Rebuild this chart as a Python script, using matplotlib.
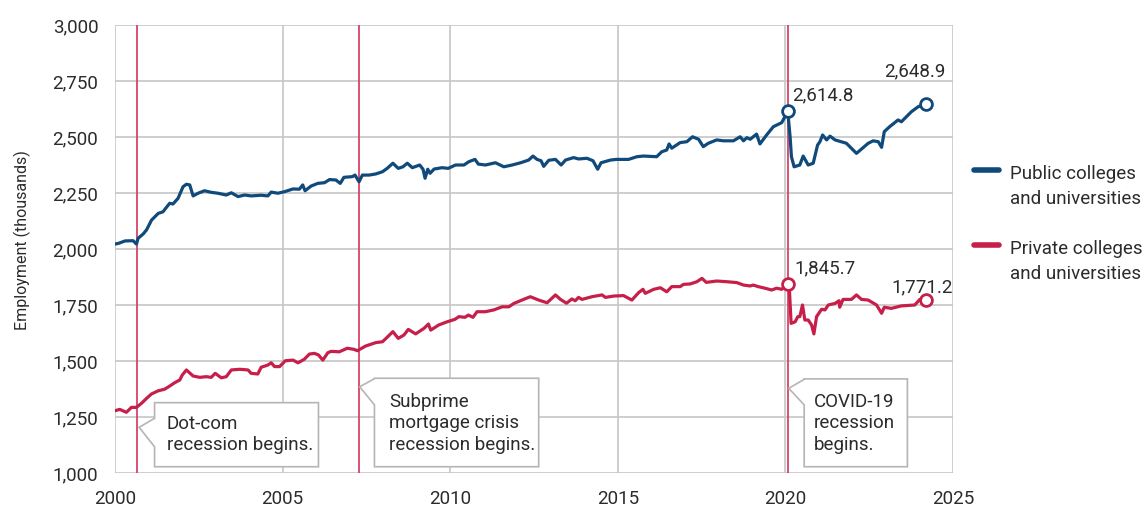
import matplotlib
matplotlib.use("Agg")
import matplotlib.pyplot as plt
from matplotlib.patches import Polygon
from matplotlib.lines import Line2D
from matplotlib.ticker import FuncFormatter, MultipleLocator

plt.rcParams['font.family'] = ['Roboto', 'DejaVu Sans']

# ---------------- data ----------------
public_years = [
    2000.00, 2000.10, 2000.30, 2000.54, 2000.64, 2000.69, 2000.84, 2000.94, 2001.09, 2001.29,
    2001.43, 2001.63, 2001.73, 2001.88, 2002.03, 2002.13, 2002.23, 2002.33, 2002.48, 2002.67,
    2002.87, 2003.07, 2003.32, 2003.47, 2003.67, 2003.87, 2004.06, 2004.36, 2004.56, 2004.66,
    2004.86, 2005.06, 2005.31, 2005.50, 2005.60, 2005.67, 2005.85, 2006.05, 2006.25, 2006.40,
    2006.59, 2006.72, 2006.83, 2007.08, 2007.16, 2007.28, 2007.38, 2007.58, 2007.78, 2007.98,
    2008.12, 2008.29, 2008.45, 2008.59, 2008.72, 2008.87, 2009.09, 2009.19, 2009.25, 2009.33,
    2009.40, 2009.52, 2009.76, 2009.94, 2010.16, 2010.41, 2010.56, 2010.74, 2010.84, 2011.05,
    2011.35, 2011.60, 2011.85, 2012.10, 2012.34, 2012.47, 2012.59, 2012.71, 2012.79, 2012.94,
    2013.14, 2013.31, 2013.44, 2013.68, 2013.83, 2014.08, 2014.26, 2014.40, 2014.50, 2014.78,
    2014.95, 2015.32, 2015.57, 2015.77, 2016.16, 2016.31, 2016.46, 2016.53, 2016.61, 2016.86,
    2017.06, 2017.23, 2017.41, 2017.55, 2017.70, 2017.95, 2018.15, 2018.45, 2018.65, 2018.75,
    2018.85, 2018.95, 2019.14, 2019.24, 2019.44, 2019.64, 2019.89, 2020.07, 2020.14, 2020.18,
    2020.26, 2020.43, 2020.53, 2020.68, 2020.83, 2020.96, 2021.03, 2021.11, 2021.23, 2021.33,
    2021.48, 2021.82, 2022.12, 2022.47, 2022.62, 2022.77, 2022.87, 2022.95, 2023.11, 2023.36,
    2023.46, 2023.76, 2023.96, 2024.20]
public_vals = [
    2022, 2025, 2036, 2037, 2022, 2048, 2067, 2085, 2129, 2159,
    2166, 2204, 2201, 2226, 2278, 2289, 2286, 2237, 2249, 2260,
    2253, 2249, 2241, 2251, 2234, 2241, 2237, 2240, 2237, 2254,
    2249, 2256, 2268, 2267, 2286, 2260, 2281, 2293, 2296, 2310,
    2308, 2293, 2320, 2323, 2330, 2300, 2330, 2330, 2335, 2345,
    2360, 2383, 2360, 2367, 2383, 2363, 2375, 2356, 2316, 2356,
    2338, 2357, 2363, 2360, 2375, 2375, 2390, 2400, 2379, 2375,
    2385, 2367, 2375, 2385, 2397, 2415, 2400, 2394, 2369, 2396,
    2400, 2375, 2397, 2408, 2402, 2405, 2394, 2356, 2385, 2397,
    2400, 2400, 2412, 2415, 2412, 2434, 2442, 2469, 2450, 2475,
    2479, 2501, 2490, 2457, 2472, 2487, 2483, 2483, 2501, 2483,
    2497, 2490, 2513, 2469, 2509, 2546, 2564, 2614.8, 2501, 2412,
    2367, 2375, 2415, 2375, 2383, 2464, 2479, 2509, 2487, 2504,
    2487, 2472, 2427, 2472, 2483, 2479, 2454, 2524, 2546, 2576,
    2568, 2613, 2635, 2648.9]

private_years = [
    2000.00, 2000.14, 2000.34, 2000.49, 2000.64, 2000.79, 2000.94, 2001.09, 2001.29, 2001.48,
    2001.63, 2001.78, 2001.93, 2002.01, 2002.13, 2002.33, 2002.53, 2002.72, 2002.87, 2002.99,
    2003.17, 2003.32, 2003.47, 2003.72, 2003.97, 2004.06, 2004.26, 2004.36, 2004.56, 2004.66,
    2004.76, 2004.91, 2005.08, 2005.31, 2005.46, 2005.65, 2005.80, 2005.95, 2006.07, 2006.20,
    2006.35, 2006.45, 2006.69, 2006.93, 2007.13, 2007.23, 2007.48, 2007.78, 2007.98, 2008.12,
    2008.29, 2008.45, 2008.62, 2008.75, 2008.97, 2009.22, 2009.35, 2009.42, 2009.66, 2009.91,
    2010.14, 2010.26, 2010.44, 2010.54, 2010.68, 2010.80, 2011.05, 2011.30, 2011.55, 2011.75,
    2011.90, 2012.14, 2012.39, 2012.64, 2012.89, 2013.14, 2013.29, 2013.47, 2013.63, 2013.73,
    2013.83, 2013.93, 2014.23, 2014.53, 2014.63, 2014.88, 2015.17, 2015.42, 2015.62, 2015.75,
    2015.82, 2016.07, 2016.27, 2016.46, 2016.61, 2016.86, 2016.96, 2017.16, 2017.36, 2017.51,
    2017.64, 2017.95, 2018.25, 2018.55, 2018.75, 2018.95, 2019.04, 2019.19, 2019.39, 2019.59,
    2019.74, 2019.89, 2020.07, 2020.12, 2020.17, 2020.29, 2020.37, 2020.43, 2020.51, 2020.58,
    2020.68, 2020.78, 2020.85, 2020.93, 2021.08, 2021.18, 2021.28, 2021.48, 2021.60, 2021.62,
    2021.72, 2021.97, 2022.12, 2022.27, 2022.47, 2022.72, 2022.87, 2022.95, 2023.16, 2023.46,
    2023.86, 2024.01, 2024.11, 2024.20]
private_vals = [
    1278, 1284, 1271, 1293, 1293, 1311, 1333, 1353, 1367, 1374,
    1388, 1403, 1415, 1438, 1460, 1433, 1427, 1430, 1427, 1445,
    1425, 1430, 1460, 1463, 1460, 1445, 1442, 1472, 1482, 1492,
    1475, 1475, 1501, 1504, 1492, 1508, 1531, 1534, 1527, 1504,
    1537, 1543, 1541, 1557, 1552, 1546, 1567, 1582, 1586, 1606,
    1631, 1601, 1616, 1641, 1621, 1646, 1665, 1638, 1661, 1675,
    1686, 1698, 1695, 1705, 1695, 1720, 1720, 1728, 1742, 1742,
    1757, 1772, 1787, 1772, 1760, 1795, 1775, 1758, 1777, 1769,
    1784, 1775, 1787, 1795, 1784, 1790, 1792, 1772, 1805, 1820,
    1802, 1820, 1827, 1809, 1832, 1832, 1842, 1844, 1854, 1869,
    1851, 1857, 1854, 1850, 1839, 1835, 1839, 1832, 1825, 1817,
    1825, 1820, 1845.7, 1817, 1668, 1675, 1698, 1698, 1750, 1683,
    1683, 1661, 1621, 1698, 1731, 1728, 1750, 1757, 1769, 1740,
    1775, 1775, 1795, 1775, 1772, 1750, 1713, 1740, 1735, 1746,
    1750, 1775, 1760, 1771.2]

series_names = ["Public colleges\nand universities", "Private colleges\nand universities"]
recession_years = [2000.67, 2007.27, 2020.07]
recession_labels = ["Dot-com\nrecession begins.",
                    "Subprime\nmortgage crisis\nrecession begins.",
                    "COVID-19\nrecession\nbegins."]
x_ticks = [2000, 2005, 2010, 2015, 2020, 2025]

# ---------------- styling ----------------
BLUE = "#0f4a7b"
RED = "#c61f4a"
REC = "#d8436a"
GRID = "#c6c6c6"
TXT = "#2b2b2b"
FS = 13.5

W, H = 1143, 512
fig = plt.figure(figsize=(W / 100, H / 100), dpi=100)
ax = fig.add_axes([115 / W, 1 - 473 / H, (953 - 115) / W, (473 - 25) / H])

ax.set_xlim(2000, 2025)
ax.set_ylim(1000, 3000)
ax.set_xticks(x_ticks)
ax.yaxis.set_major_locator(MultipleLocator(250))
ax.yaxis.set_major_formatter(FuncFormatter(lambda v, p: f"{v:,.0f}"))
ax.grid(True, color=GRID, lw=1.2, zorder=0)
for s in ax.spines.values():
    s.set_visible(False)
ax.tick_params(length=0, labelsize=FS, colors=TXT)
ax.tick_params(axis="y", pad=12)
ax.tick_params(axis="x", pad=12)
ax.set_axisbelow(True)

# recession lines
for yr in recession_years:
    ax.axvline(yr, color=REC, lw=1.3, zorder=2)

# data lines
ax.plot(public_years, public_vals, color=BLUE, lw=2.3, zorder=3, solid_joinstyle="round")
ax.plot(private_years, private_vals, color=RED, lw=2.3, zorder=3, solid_joinstyle="round")

# highlighted points
pub_peak_i = public_years.index(2020.07)
priv_peak_i = private_years.index(2020.07)
for xs, ys, c, idxs in [(public_years, public_vals, BLUE, [pub_peak_i, -1]),
                        (private_years, private_vals, RED, [priv_peak_i, -1])]:
    for i in idxs:
        ax.plot(xs[i], ys[i], "o", ms=8.5, mfc="white", mec=c, mew=2, zorder=4)

def fmt(v):
    return f"{v:,.1f}"

ax.text(public_years[pub_peak_i] + 0.14, public_vals[pub_peak_i] + 70, fmt(public_vals[pub_peak_i]),
        fontsize=FS, color=TXT, ha="left", va="center", zorder=6)
ax.text(public_years[-1] - 0.33, public_vals[-1] + 143, fmt(public_vals[-1]),
        fontsize=FS, color=TXT, ha="center", va="center", zorder=6)
ax.text(private_years[priv_peak_i] + 0.19, private_vals[priv_peak_i] + 66, fmt(private_vals[priv_peak_i]),
        fontsize=FS, color=TXT, ha="left", va="center", zorder=6)
ax.text(private_years[-1] - 0.13, private_vals[-1] + 58, fmt(private_vals[-1]),
        fontsize=FS, color=TXT, ha="center", va="center", zorder=6)

# callout boxes: (left, right, top, bottom, base_hi, base_lo, tip_x, tip_y, text_x, text_y)
boxes = [
    (2001.18, 2006.07, 1314, 1028, 1244, 1117, 2000.72, 1204, 2001.54, 1171),
    (2007.74, 2012.64, 1423, 1028, 1421, 1304, 2007.30, 1385, 2008.18, 1223),
    (2020.56, 2023.64, 1420, 1028, 1418, 1304, 2020.10, 1378, 2020.86, 1223),
]
for (l, r, t, b, bh, bl, tx, ty, xx, yy), lab in zip(boxes, recession_labels):
    poly = Polygon([(l, t), (r, t), (r, b), (l, b), (l, bl), (tx, ty), (l, bh)],
                   closed=True, facecolor="white", edgecolor="#b5b5b5", lw=1.2, zorder=5)
    ax.add_patch(poly)
    ax.text(xx, yy, lab, fontsize=FS, color=TXT, ha="left", va="center",
            linespacing=1.25, zorder=6)

# y label
fig.text(22 / W, 1 - 240 / H, "Employment (thousands)", rotation=90, fontsize=11.5,
         color=TXT, ha="center", va="center")

# legend (manual)
for (yline, ytext), c, name in zip([(169.5, 186.5), (244.5, 261.5)], [BLUE, RED], series_names):
    fig.add_artist(Line2D([974 / W, 999 / W], [1 - yline / H, 1 - yline / H], color=c, lw=4,
                          solid_capstyle="round"))
    fig.text(1010 / W, 1 - ytext / H, name, fontsize=FS, color=TXT, ha="left", va="center",
             linespacing=1.45)

fig.savefig("out.png", dpi=100)
